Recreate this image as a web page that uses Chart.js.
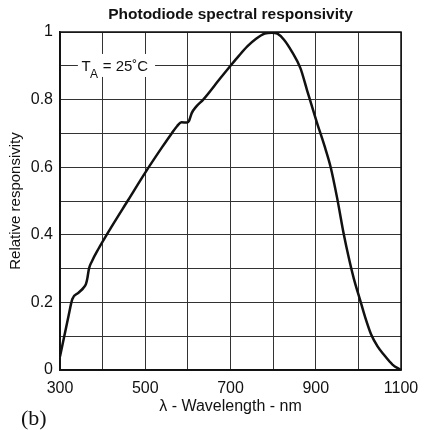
<!DOCTYPE html>
<html lang="en">
<head>
<meta charset="UTF-8">
<title>Photodiode spectral responsivity</title>
<script src="https://cdn.jsdelivr.net/npm/chart.js"></script>
<style>
  html, body { margin: 0; padding: 0; background: #fff; }
  canvas { display: block; }
</style>
</head>
<body>
<canvas id="chart" width="431" height="430"></canvas>
<script>
// curve (nm -> relative responsivity)
const wavelength = [300, 310, 320, 329, 343, 355, 361, 364, 368, 375, 390, 420, 460, 500, 540, 562, 575, 585, 598, 603, 609, 620, 636, 676, 700, 720, 740, 760, 780, 797, 810, 825, 844, 864, 880, 902, 920, 935, 950, 966, 977, 989, 1005, 1015, 1030, 1045, 1060, 1080, 1100];
const responsivity = [0.04, 0.10, 0.16, 0.21, 0.228, 0.243, 0.255, 0.27, 0.30, 0.322, 0.358, 0.422, 0.503, 0.584, 0.66, 0.70, 0.722, 0.733, 0.732, 0.738, 0.76, 0.78, 0.80, 0.863, 0.90, 0.93, 0.958, 0.98, 0.995, 0.998, 0.995, 0.978, 0.942, 0.893, 0.826, 0.735, 0.665, 0.60, 0.51, 0.40, 0.335, 0.272, 0.203, 0.16, 0.105, 0.07, 0.045, 0.016, 0];

const xLabels = [300, 500, 700, 900, 1100];
const yLabels = [0, 0.2, 0.4, 0.6, 0.8, 1];

const FONT = "'Liberation Sans', Arial, Helvetica, sans-serif";
Chart.defaults.font.family = FONT;
Chart.defaults.color = '#111';

// frame, title, T_A note and (b) tag
const extras = {
    id: 'extras',
    afterDatasetsDraw(chart) {
        const ctx = chart.ctx;
        const a = chart.chartArea;
        const x = chart.scales.x, y = chart.scales.y;
        ctx.save();

        // box around plot
        ctx.strokeStyle = '#111';
        ctx.lineWidth = 1.5;
        ctx.strokeRect(a.left, a.top, a.right - a.left, a.bottom - a.top);

        // T_A = 25˚C label with white background
        const bx0 = x.getPixelForValue(342), bx1 = x.getPixelForValue(523);
        const by0 = y.getPixelForValue(0.935), by1 = y.getPixelForValue(0.867);
        ctx.fillStyle = '#fff';
        ctx.fillRect(bx0, by0, bx1 - bx0, by1 - by0);
        const base = y.getPixelForValue(0.9) + 5;
        let tx = bx0 + 3.5;
        ctx.fillStyle = '#111';
        ctx.textBaseline = 'alphabetic';
        ctx.textAlign = 'left';
        ctx.font = '15px ' + FONT;
        ctx.fillText('T', tx, base);
        tx += ctx.measureText('T').width - 0.5;
        ctx.font = '12px ' + FONT;
        ctx.fillText('A', tx, base + 7);
        tx += ctx.measureText('A').width + 0.5;
        ctx.font = '15px ' + FONT;
        ctx.fillText(' = 25˚C', tx, base);

        // title
        ctx.textAlign = 'center';
        ctx.font = 'bold 15.5px ' + FONT;
        ctx.fillText('Photodiode spectral responsivity', (a.left + a.right) / 2, 19);

        // panel tag
        ctx.textAlign = 'left';
        ctx.font = '22px "Liberation Serif", "Times New Roman", serif';
        ctx.fillText('(b)', 21, 425);
        ctx.restore();
    }
};

new Chart(document.getElementById('chart'), {
    type: 'line',
    data: {
        datasets: [{
            data: wavelength.map((w, i) => ({ x: w, y: responsivity[i] })),
            borderColor: '#111',
            borderWidth: 2.5,
            pointRadius: 0,
            cubicInterpolationMode: 'monotone',
            fill: false
        }]
    },
    options: {
        responsive: false,
        animation: false,
        layout: { padding: { top: 32, right: 30, bottom: 0, left: 0 } },
        plugins: {
            legend: { display: false },
            tooltip: { enabled: false }
        },
        scales: {
            x: {
                type: 'linear',
                min: 300,
                max: 1100,
                afterFit: s => { s.height = 60; },
                grid: { color: '#333', lineWidth: 1, drawTicks: false },
                border: { color: '#111', width: 1.5 },
                ticks: {
                    stepSize: 100,
                    padding: 9,
                    maxRotation: 0,
                    autoSkip: false,
                    font: { size: 16 },
                    callback: v => xLabels.includes(v) ? String(v) : ''
                },
                title: {
                    display: true,
                    text: 'λ - Wavelength - nm',
                    font: { size: 16 },
                    padding: { top: 0, bottom: 14 }
                }
            },
            y: {
                min: 0,
                max: 1,
                afterFit: s => { s.width = 60; },
                grid: { color: '#333', lineWidth: 1, drawTicks: false },
                border: { color: '#111', width: 1.5 },
                ticks: {
                    stepSize: 0.1,
                    padding: 7,
                    autoSkip: false,
                    font: { size: 16 },
                    callback: v => {
                        const hit = yLabels.find(l => Math.abs(l - v) < 1e-6);
                        return hit === undefined ? '' : String(hit);
                    }
                },
                title: {
                    display: true,
                    text: 'Relative responsivity',
                    font: { size: 15 },
                    padding: { top: 7, bottom: 0 }
                }
            }
        }
    },
    plugins: [extras]
});
</script>
</body>
</html>
